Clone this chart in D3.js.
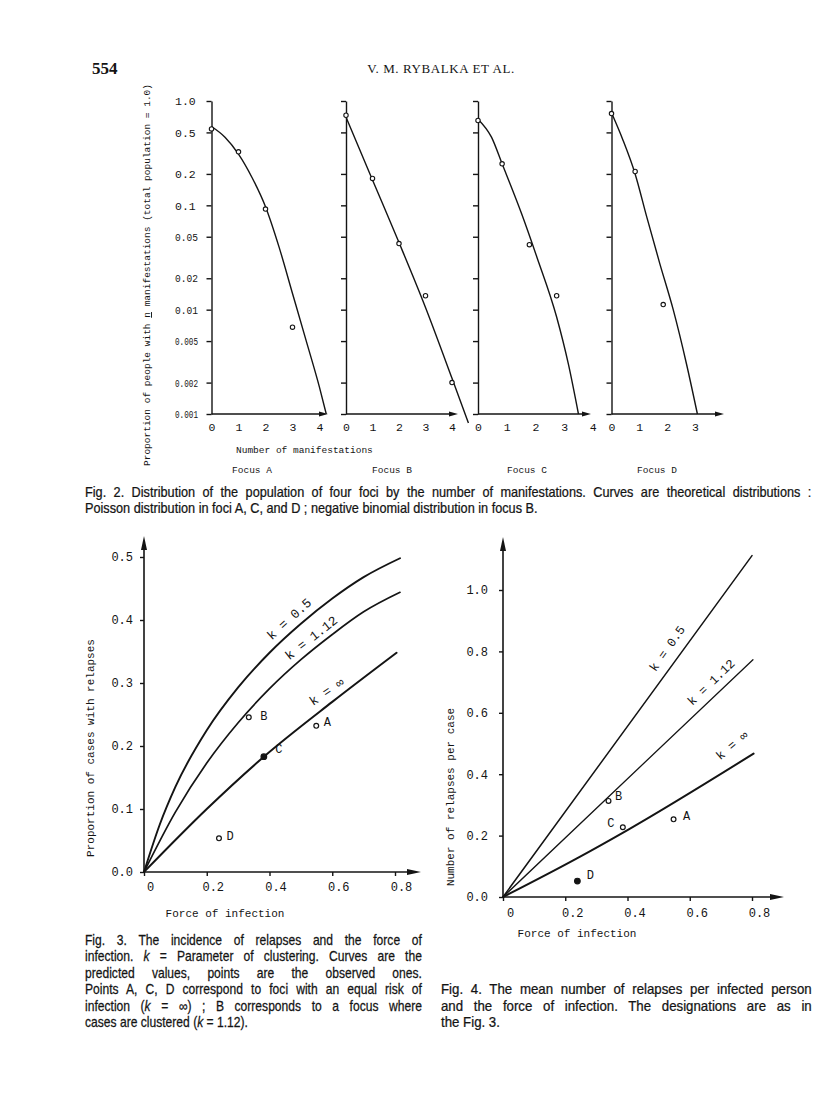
<!DOCTYPE html>
<html><head><meta charset="utf-8">
<script src="https://cdn.jsdelivr.net/npm/d3@7"></script>
<style>
html,body{margin:0;padding:0;background:#fff;}
svg{display:block;}
</style></head><body>
<svg id="page" width="816" height="1113"></svg>
<script>
// ================= DATA =================
// Fig. 2 – log axis ticks
const fig2YTicks = [1, 0.5, 0.2, 0.1, 0.05, 0.02, 0.01, 0.005, 0.002, 0.001];
const fig2YTickLabels = ["1.0","0.5","0.2","0.1","0.05","0.02","0.01","0.005","0.002","0.001"];
const focusNames = ["Focus A","Focus B","Focus C","Focus D"];
const focusXTicks = [[0,1,2,3,4],[0,1,2,3,4],[0,1,2,3,4],[0,1,2,3]];
// observed proportions (n, proportion)
const obsA_n = [0,1,2,3];            const obsA_p = [0.54,0.326,0.092,0.0068];
const obsB_n = [0,1,2,3,4];          const obsB_p = [0.73,0.181,0.043,0.0136,0.0020];
const obsC_n = [0,0.84,1.79,2.74];   const obsC_p = [0.65,0.25,0.042,0.0136];
const obsD_n = [0,0.85,1.86];        const obsD_p = [0.757,0.211,0.0112];
// theoretical curves
const curveA_n = [0,0.5,1,1.5,2,2.5,3,3.5,4,4.25];
const curveA_p = [0.57,0.45,0.31,0.185,0.097,0.040,0.0143,0.0051,0.0018,0.001];
const curveB_n = [0,1,2,3,4,4.62];
const curveB_p = [0.70,0.175,0.044,0.0105,0.0022,0.00082];
const curveC_n = [0,0.47,0.84,1.52,2.05,2.74,3.15,3.5];
const curveC_p = [0.67,0.45,0.25,0.083,0.032,0.0085,0.003,0.001];
const curveD_n = [0,0.4,0.85,1.27,1.74,2.22,2.7,3.09];
const curveD_p = [0.77,0.43,0.20,0.077,0.0275,0.010,0.003,0.001];

// Fig. 3 – proportion of cases with relapses
const fig3XTicks = [0,0.2,0.4,0.6,0.8];
const fig3XTickLabels = ["0","0.2","0.4","0.6","0.8"];
const fig3YTicks = [0,0.1,0.2,0.3,0.4,0.5];
const fig3YTickLabels = ["0.0","0.1","0.2","0.3","0.4","0.5"];
const fig3K05_x  = [0,0.05,0.1,0.2,0.3,0.4,0.5,0.6,0.7,0.816];
const fig3K05_y  = [0,0.075,0.135,0.225,0.293,0.348,0.394,0.434,0.468,0.498];
const fig3K112_x = [0,0.1,0.2,0.3,0.4,0.5,0.6,0.7,0.816];
const fig3K112_y = [0,0.095,0.173,0.237,0.291,0.337,0.377,0.413,0.444];
const fig3KInf_x = [0,0.2,0.382,0.6,0.805];
const fig3KInf_y = [0,0.1,0.183,0.27,0.348];
const fig3Labels = ["A","B","C","D"];
const fig3Pt_x = [0.549,0.334,0.382,0.239];
const fig3Pt_y = [0.232,0.2455,0.183,0.0534];

// Fig. 4 – relapses per case
const fig4XTicks = [0,0.2,0.4,0.6,0.8];
const fig4XTickLabels = ["0","0.2","0.4","0.6","0.8"];
const fig4YTicks = [0,0.2,0.4,0.6,0.8,1.0];
const fig4YTickLabels = ["0.0","0.2","0.4","0.6","0.8","1.0"];
const fig4K05_x  = [0,0.8];      const fig4K05_y  = [0,1.112];
const fig4K112_x = [0,0.803];    const fig4K112_y = [0,0.773];
const fig4KInf_x = [0,0.236,0.4,0.805]; const fig4KInf_y = [0,0.125,0.218,0.467];
const fig4Labels = ["A","B","C","D"];
const fig4Pt_x = [0.548,0.339,0.385,0.239];
const fig4Pt_y = [0.253,0.313,0.227,0.052];

const kLabels = ["k = 0.5","k = 1.12","k = \u221E"];

// ================= DRAWING =================
const svg = d3.select("#page");
const INK = "#141414";
const MONO = '"Liberation Mono","DejaVu Sans Mono",monospace';
const SANS = '"Liberation Sans",Arial,sans-serif';
const SERIF = '"Liberation Serif","Times New Roman",serif';
const zip = (a,b)=>a.map((v,i)=>[v,b[i]]);

function arrow(g, x, y, dir, len, hw){
  const p = dir==='right'
    ? `M${x},${y} L${x-len},${y-hw} L${x-len},${y+hw} Z`
    : `M${x},${y} L${x-hw},${y+len} L${x+hw},${y+len} Z`;
  g.append("path").attr("d",p).attr("fill",INK);
}
function styleAxis(sel, sw){
  sel.select(".domain").attr("stroke",INK).attr("stroke-width",sw);
  sel.selectAll(".tick line").attr("stroke",INK).attr("stroke-width",sw);
  sel.selectAll(".tick text").attr("fill",INK).attr("font-family",MONO);
}

// ---- header ----
svg.append("text").attr("x",92).attr("y",74).attr("font-family",SERIF)
  .attr("font-weight","bold").attr("font-size",17).attr("fill",INK).text("554");
svg.append("text").attr("x",441).attr("y",73).attr("text-anchor","middle").attr("font-family",SERIF)
  .attr("font-size",13).attr("letter-spacing",0.6).attr("fill",INK).text("V. M. RYBALKA ET AL.");

// ---- Fig. 2 ----
const f2Top = 101, f2Bottom = 414;
const y2 = d3.scaleLog().domain([0.001,1]).range([f2Bottom,f2Top]);
const panels = [
  {x0:211.5, unit:27.0, xEnd:328, focusX:252, obs:zip(obsA_n,obsA_p), curve:zip(curveA_n,curveA_p)},
  {x0:346,   unit:26.5, xEnd:458, focusX:392, obs:zip(obsB_n,obsB_p), curve:zip(curveB_n,curveB_p)},
  {x0:478,   unit:28.7, xEnd:591, focusX:527, obs:zip(obsC_n,obsC_p), curve:zip(curveC_n,curveC_p)},
  {x0:611.5, unit:27.8, xEnd:724, focusX:657, obs:zip(obsD_n,obsD_p), curve:zip(curveD_n,curveD_p)}
];
panels.forEach((p,i)=>{
  const x = d3.scaleLinear().domain([0,1]).range([p.x0, p.x0+p.unit]);
  const g = svg.append("g");
  const yAx = d3.axisLeft(y2).tickValues(fig2YTicks).tickSize(5).tickSizeOuter(0)
    .tickFormat(i===0 ? (d,j)=>fig2YTickLabels[j] : ()=> "");
  const ga = g.append("g").attr("transform",`translate(${p.x0},0)`).call(yAx);
  styleAxis(ga,1.4);
  ga.selectAll(".tick text").attr("text-anchor","start").attr("x",175-p.x0).attr("font-size",11.5)
    .each(function(){ const w=this.getComputedTextLength(); if(w>23){ d3.select(this).attr("textLength",23).attr("lengthAdjust","spacingAndGlyphs"); }});
  g.append("line").attr("x1",p.x0).attr("x2",p.xEnd-4).attr("y1",f2Bottom).attr("y2",f2Bottom)
    .attr("stroke",INK).attr("stroke-width",1.4);
  arrow(g,p.xEnd,f2Bottom,'right',9,2.6);
  const xAx = d3.axisBottom(x).tickValues(focusXTicks[i]).tickSize(0).tickFormat(d3.format("d"));
  const gx = g.append("g").attr("transform",`translate(0,${f2Bottom})`).call(xAx);
  gx.select(".domain").remove();
  gx.selectAll(".tick text").attr("fill",INK).attr("font-family",MONO).attr("font-size",11.5)
    .attr("y",13).attr("dy","0.35em");
  g.append("path").datum(p.curve)
    .attr("d",d3.line().x(d=>x(d[0])).y(d=>y2(d[1])).curve(d3.curveMonotoneX))
    .attr("fill","none").attr("stroke",INK).attr("stroke-width",1.4);
  g.selectAll("circle.obs").data(p.obs).join("circle").attr("class","obs")
    .attr("cx",d=>x(d[0])).attr("cy",d=>y2(d[1])).attr("r",2.2)
    .attr("fill","#fff").attr("stroke",INK).attr("stroke-width",1.1);
  svg.append("text").attr("x",p.focusX).attr("y",473).attr("text-anchor","middle")
    .attr("font-family",MONO).attr("font-size",9.5).attr("fill",INK).text(focusNames[i]);
});
svg.append("text").attr("x",236).attr("y",453).attr("font-family",MONO).attr("font-size",9.5)
  .attr("fill",INK).text("Number of manifestations");
{
  const t = svg.append("text").attr("transform","translate(150,275) rotate(-90)").attr("text-anchor","middle")
    .attr("font-family",MONO).attr("font-size",9.5).attr("fill",INK);
  t.append("tspan").text("Proportion of people with ");
  t.append("tspan").attr("text-decoration","underline").text("n");
  t.append("tspan").text(" manifestations (total population = 1.0)");
}

// ---- generic linear figure (Fig. 3 / Fig. 4) ----
function linearFig(cfg){
  const g = svg.append("g");
  const x = d3.scaleLinear().domain([0,0.8]).range([cfg.ox, cfg.x08]);
  const y = d3.scaleLinear().domain([0,cfg.yRef]).range([cfg.oy, cfg.yRefPx]);
  g.append("line").attr("x1",cfg.ox).attr("x2",cfg.ox).attr("y1",cfg.oy).attr("y2",cfg.yTop+8)
    .attr("stroke",INK).attr("stroke-width",1.6);
  arrow(g,cfg.ox,cfg.yTop,'up',14,3);
  g.append("line").attr("x1",cfg.ox).attr("x2",cfg.xEnd-8).attr("y1",cfg.oy).attr("y2",cfg.oy)
    .attr("stroke",INK).attr("stroke-width",1.6);
  arrow(g,cfg.xEnd,cfg.oy,'right',14,3);
  const yAx = d3.axisLeft(y).tickValues(cfg.yTicks).tickSize(4).tickPadding(cfg.yPad)
    .tickFormat((d,j)=>cfg.yTickLabels[j]);
  const gy = g.append("g").attr("transform",`translate(${cfg.ox},0)`).call(yAx);
  gy.select(".domain").remove(); styleAxis(gy,1.4);
  gy.selectAll(".tick text").attr("font-size",12);
  const xAx = d3.axisBottom(x).tickValues(cfg.xTicks).tickSize(4)
    .tickFormat((d,j)=>cfg.xTickLabels[j]);
  const gx = g.append("g").attr("transform",`translate(0,${cfg.oy})`).call(xAx);
  gx.select(".domain").remove(); styleAxis(gx,1.4);
  gx.selectAll(".tick text").attr("font-size",12).attr("dx",cfg.xLabDx).attr("y",cfg.xLabY).attr("dy","0.35em");
  const line = d3.line().x(d=>x(d[0])).y(d=>y(d[1])).curve(d3.curveMonotoneX);
  cfg.curves.forEach((c,k)=>{
    g.append("path").datum(c).attr("d",line).attr("fill","none").attr("stroke",INK)
      .attr("stroke-width",cfg.widths[k]).attr("stroke-linecap","round");
  });
  cfg.kPos.forEach((kp,k)=>{
    g.append("text").attr("transform",`translate(${x(kp[0])},${y(kp[1])}) rotate(${kp[2]})`)
      .attr("text-anchor","middle").attr("dy","0.35em").attr("font-family",MONO)
      .attr("font-size",cfg.kSize).attr("fill",INK).text(kLabels[k]);
  });
  cfg.points.forEach((pt,j)=>{
    const filled = cfg.filled.includes(pt[2]);
    g.append("circle").attr("cx",x(pt[0])).attr("cy",y(pt[1])).attr("r",filled?2.8:2.4)
      .attr("fill",filled?INK:"#fff").attr("stroke",INK).attr("stroke-width",1.2);
    const off = cfg.labOff[pt[2]];
    g.append("text").attr("x",x(pt[0])+off[0]).attr("y",y(pt[1])+off[1]).attr("dy","0.35em")
      .attr("text-anchor","middle").attr("font-family",MONO).attr("font-size",12).attr("fill",INK).text(pt[2]);
  });
  g.append("text").attr("x",cfg.xTitle[0]).attr("y",cfg.xTitle[1]).attr("text-anchor","middle")
    .attr("font-family",MONO).attr("font-size",11).attr("fill",INK).text("Force of infection");
  g.append("text").attr("transform",`translate(${cfg.yTitle[0]},${cfg.yTitle[1]}) rotate(-90)`)
    .attr("text-anchor","middle").attr("dy","0.35em").attr("font-family",MONO).attr("font-size",11)
    .attr("fill",INK).text(cfg.yTitleText);
}

linearFig({
  ox:144, oy:872, x08:395, yRef:0.5, yRefPx:557, yTop:536, xEnd:421,
  yTicks:fig3YTicks, yTickLabels:fig3YTickLabels, yPad:7,
  xTicks:fig3XTicks, xTickLabels:fig3XTickLabels, xLabDx:6, xLabY:15,
  curves:[zip(fig3K05_x,fig3K05_y), zip(fig3K112_x,fig3K112_y), zip(fig3KInf_x,fig3KInf_y)],
  widths:[1.9,1.7,2.0],
  kPos:[[0.462,0.402,-42],[0.532,0.372,-38],[0.582,0.287,-34]], kSize:13,
  points:fig3Labels.map((l,j)=>[fig3Pt_x[j],fig3Pt_y[j],l]), filled:["C"],
  labOff:{A:[11,-4],B:[15,-2],C:[15,-8],D:[11,-3]},
  xTitle:[225,917], yTitle:[90,748], yTitleText:"Proportion of cases with relapses"
});
linearFig({
  ox:503, oy:897, x08:752, yRef:1.0, yRefPx:590, yTop:537, xEnd:784,
  yTicks:fig4YTicks, yTickLabels:fig4YTickLabels, yPad:11,
  xTicks:fig4XTicks, xTickLabels:fig4XTickLabels, xLabDx:7, xLabY:16,
  curves:[zip(fig4K05_x,fig4K05_y), zip(fig4K112_x,fig4K112_y), zip(fig4KInf_x,fig4KInf_y)],
  widths:[1.5,1.3,2.0],
  kPos:[[0.527,0.81,-55],[0.668,0.70,-44],[0.735,0.495,-40]], kSize:12.5,
  points:fig4Labels.map((l,j)=>[fig4Pt_x[j],fig4Pt_y[j],l]), filled:["D"],
  labOff:{A:[13,-4],B:[10,-5],C:[-12,-5],D:[13,-6]},
  xTitle:[577,937], yTitle:[450,797], yTitleText:"Number of relapses per case"
});

// ---- captions ----
function makeLine(x, y, parts){
  const t = svg.append("text").attr("x",x).attr("y",y).attr("font-family",SANS)
    .attr("font-size",14).attr("fill",INK).attr("stroke",INK).attr("stroke-width",0.25);
  parts.forEach(p=>{
    const s = typeof p === "string" ? {t:p} : p;
    const ts = t.append("tspan").text(s.t);
    if (s.i) ts.attr("font-style","italic");
  });
  const full = parts.map(p=>typeof p==="string"?p:p.t).join("");
  return {t, x, w:t.node().getComputedTextLength(), spaces:(full.match(/ /g)||[]).length};
}
function layoutParagraph(x, y0, lh, lines, width, lastWidth){
  const made = lines.map((parts,j)=>makeLine(x, y0+j*lh, parts));
  const last = made[made.length-1];
  let sx = lastWidth / last.w;
  made.forEach((m,j)=>{
    const isLast = j===made.length-1;
    let s = sx, target = isLast ? lastWidth : width;
    if (!isLast){
      if (m.w*s > target) s = target/m.w;
      else if (m.spaces) m.t.attr("word-spacing",(target/s - m.w)/m.spaces);
    }
    m.t.attr("transform",`translate(${x},0) scale(${s},1) translate(${-x},0)`);
  });
}
layoutParagraph(85,497,16.4,[
  ["Fig. 2. Distribution of the population of four foci by the number of manifestations. Curves are theoretical distributions :"],
  ["Poisson distribution in foci A, C, and D ; negative binomial distribution in focus B."]
],727,453);
layoutParagraph(85,945,16.4,[
  ["Fig. 3. The incidence of relapses and the force of"],
  ["infection. ",{t:"k",i:true}," = Parameter of clustering. Curves are the"],
  ["predicted values, points are the observed ones."],
  ["Points A, C, D correspond to foci with an equal risk of"],
  ["infection (",{t:"k",i:true}," = \u221E) ; B corresponds to a focus where"],
  ["cases are clustered (",{t:"k",i:true}," = 1.12)."]
],337,163);
layoutParagraph(441,994.5,16.4,[
  ["Fig. 4. The mean number of relapses per infected person"],
  ["and the force of infection. The designations are as in"],
  ["the Fig. 3."]
],371,59);
</script>
</body></html>
